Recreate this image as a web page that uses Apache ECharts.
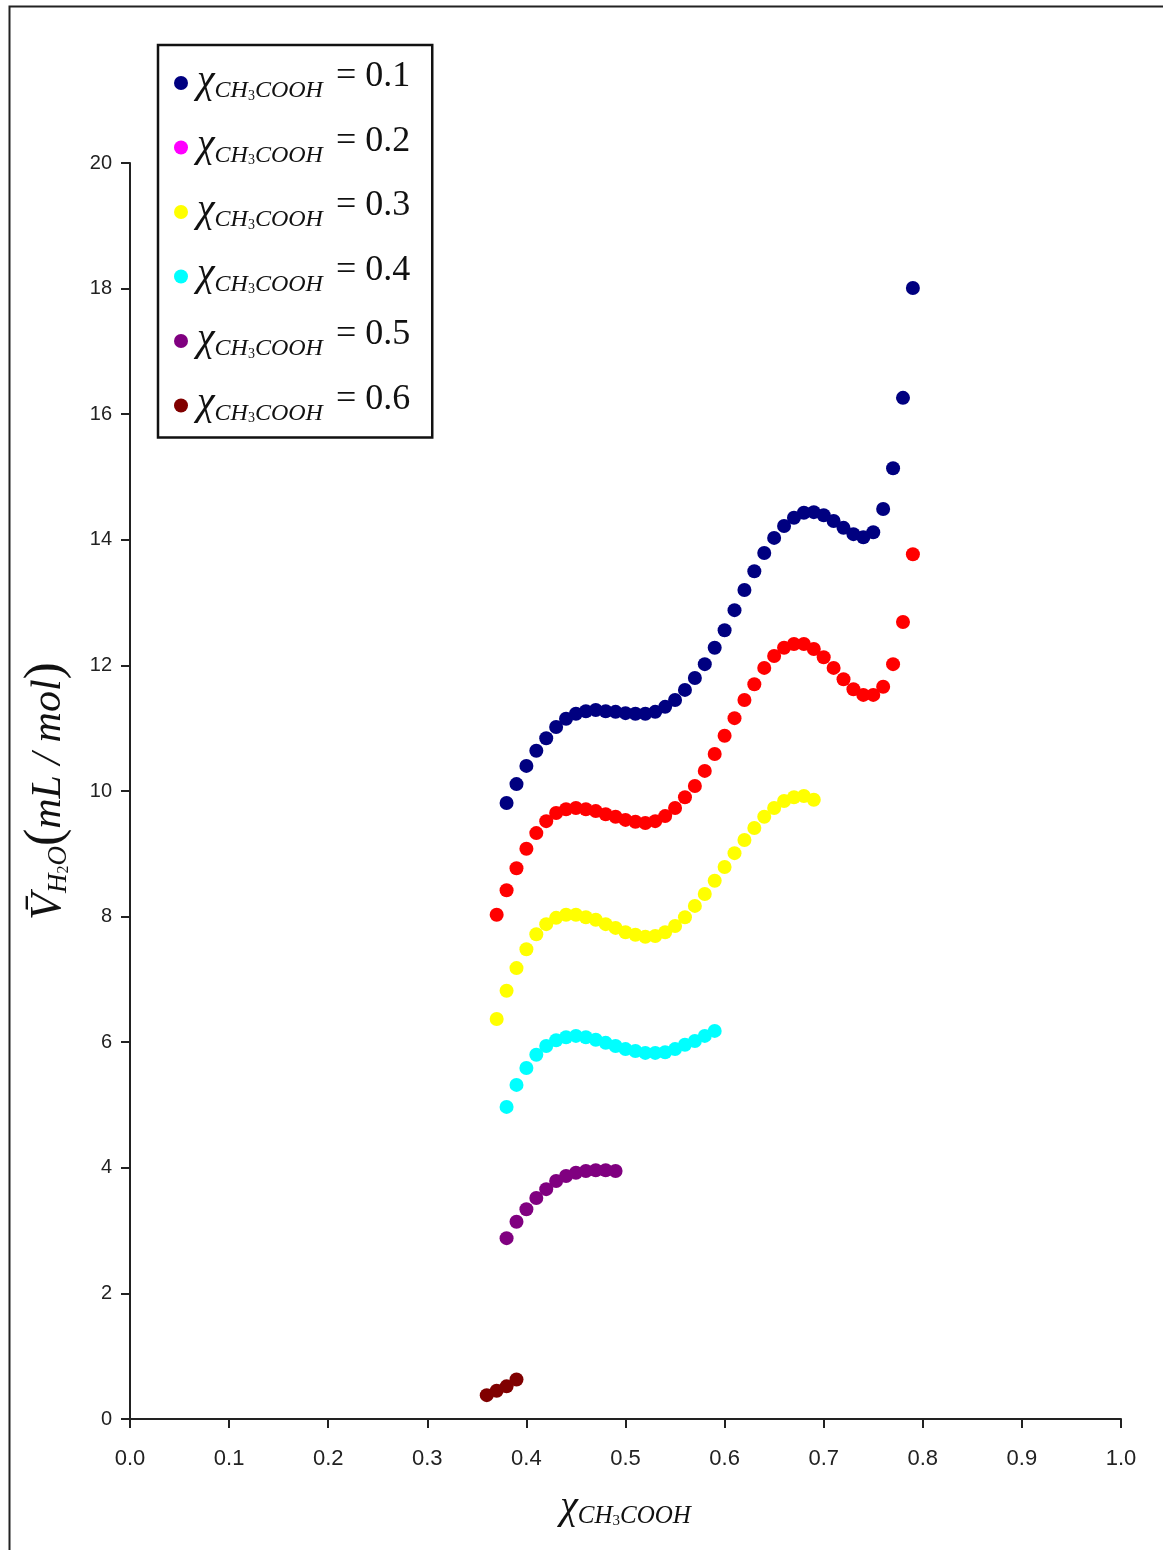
<!DOCTYPE html>
<html>
<head>
<meta charset="utf-8">
<script src="https://cdn.jsdelivr.net/npm/echarts@6/dist/echarts.min.js"></script>
<style>
  html, body { margin: 0; padding: 0; background: #fff; }
  #chart { width: 1163px; height: 1550px; }
</style>
</head>
<body>
<div id="chart"></div>
<script>
// x = mole fraction CH3COOH, y = partial molar volume of water (mL/mol)
const x01 = [0.38,0.39,0.40,0.41,0.42,0.43,0.44,0.45,0.46,0.47,0.48,0.49,0.50,0.51,0.52,0.53,0.54,0.55,0.56,0.57,0.58,0.59,0.60,0.61,0.62,0.63,0.64,0.65,0.66,0.67,0.68,0.69,0.70,0.71,0.72,0.73,0.74,0.75,0.76,0.77,0.78,0.79]
const y01 = [9.81,10.11,10.40,10.64,10.84,11.02,11.15,11.23,11.27,11.29,11.27,11.26,11.24,11.23,11.23,11.26,11.34,11.45,11.61,11.80,12.02,12.28,12.56,12.88,13.20,13.50,13.79,14.03,14.22,14.35,14.43,14.44,14.39,14.30,14.19,14.09,14.04,14.12,14.49,15.14,16.26,18.01]

const x02 = [0.37,0.38,0.39,0.40,0.41,0.42,0.43,0.44,0.45,0.46,0.47,0.48,0.49,0.50,0.51,0.52,0.53,0.54,0.55,0.56,0.57,0.58,0.59,0.60,0.61,0.62,0.63,0.64,0.65,0.66,0.67,0.68,0.69,0.70,0.71,0.72,0.73,0.74,0.75,0.76,0.77,0.78,0.79]
const y02 = [8.03,8.42,8.77,9.08,9.33,9.52,9.65,9.71,9.73,9.71,9.68,9.63,9.59,9.54,9.51,9.49,9.52,9.60,9.73,9.90,10.08,10.32,10.59,10.88,11.16,11.45,11.70,11.96,12.15,12.28,12.34,12.34,12.26,12.13,11.96,11.78,11.62,11.53,11.53,11.66,12.02,12.69,13.77]

const x03 = [0.37,0.38,0.39,0.40,0.41,0.42,0.43,0.44,0.45,0.46,0.47,0.48,0.49,0.50,0.51,0.52,0.53,0.54,0.55,0.56,0.57,0.58,0.59,0.60,0.61,0.62,0.63,0.64,0.65,0.66,0.67,0.68,0.69]
const y03 = [6.37,6.82,7.18,7.48,7.72,7.88,7.98,8.03,8.03,7.99,7.95,7.88,7.82,7.75,7.71,7.68,7.69,7.75,7.85,7.99,8.17,8.36,8.57,8.79,9.01,9.22,9.41,9.59,9.73,9.84,9.90,9.92,9.86]

const x04 = [0.38,0.39,0.40,0.41,0.42,0.43,0.44,0.45,0.46,0.47,0.48,0.49,0.50,0.51,0.52,0.53,0.54,0.55,0.56,0.57,0.58,0.59]
const y04 = [4.97,5.32,5.59,5.80,5.94,6.03,6.08,6.10,6.08,6.04,5.99,5.94,5.89,5.86,5.83,5.83,5.84,5.89,5.96,6.02,6.10,6.18]

const x05 = [0.38,0.39,0.40,0.41,0.42,0.43,0.44,0.45,0.46,0.47,0.48,0.49]
const y05 = [2.88,3.14,3.34,3.52,3.66,3.79,3.87,3.92,3.95,3.96,3.96,3.95]

const x06 = [0.36,0.37,0.38,0.39]
const y06 = [0.38,0.45,0.52,0.63]

const seriesNames = ['0.1', '0.2', '0.3', '0.4', '0.5', '0.6']
const seriesX = [x01, x02, x03, x04, x05, x06]
const seriesY = [y01, y02, y03, y04, y05, y06]
const colors = ['#000080', '#ff0000', '#ffff00', '#00ffff', '#800080', '#800000']
// legend icon of 0.2 is magenta in the original while its points are red
const legendColors = ['#000080', '#ff00ff', '#ffff00', '#00ffff', '#800080', '#800000']

const xTicks = ['0.0','0.1','0.2','0.3','0.4','0.5','0.6','0.7','0.8','0.9','1.0']

const serif = '"Liberation Serif", "DejaVu Serif", serif'
const sans = '"Liberation Sans Narrow", "Liberation Sans", Arial, sans-serif'

const myChart = echarts.init(document.getElementById('chart'))

let series = seriesNames.map((name, i) => {
  return {
    name: name,
    type: 'scatter',
    symbol: 'circle',
    symbolSize: 14,
    itemStyle: { color: colors[i], opacity: 1 },
    data: seriesX[i].map((x, j) => [x, seriesY[i][j]]),
    z: 10 - i
  }
})

let option = {
  animation: false,
  backgroundColor: '#fff',
  grid: { left: 130, right: 42, top: 163, bottom: 131 },
  legend: {
    orient: 'vertical',
    left: 158,
    top: 45,
    padding: [14, 22, 12, 16],
    itemGap: 20.5,
    itemWidth: 22,
    itemHeight: 14,
    icon: 'circle',
    borderColor: '#111',
    borderWidth: 2.5,
    backgroundColor: '#fff',
    data: seriesNames.map((n, i) => ({ name: n, itemStyle: { color: legendColors[i] } })),
    formatter: name => '{chi|χ}{sub|CH}{three|3}{sub|COOH}{eq| = ' + name + '}',
    textStyle: {
      color: '#111',
      rich: {
        chi: { fontFamily: serif, fontStyle: 'italic', fontSize: 40, lineHeight: 40, verticalAlign: 'bottom', padding: [0, 0, 2, 0] },
        sub: { fontFamily: serif, fontStyle: 'italic', fontSize: 24, lineHeight: 26, verticalAlign: 'bottom' },
        three: { fontFamily: serif, fontSize: 14, lineHeight: 14, verticalAlign: 'bottom' },
        eq: { fontFamily: serif, fontSize: 36, lineHeight: 40, verticalAlign: 'bottom', padding: [0, 0, 8, 4] }
      }
    }
  },
  xAxis: {
    type: 'value',
    min: 0,
    max: 1,
    interval: 0.1,
    splitLine: { show: false },
    axisLine: { lineStyle: { color: '#222', width: 2 } },
    axisTick: { inside: false, length: 9, lineStyle: { color: '#222', width: 2 } },
    axisLabel: {
      margin: 29,
      fontFamily: sans,
      fontSize: 22,
      color: '#222',
      formatter: (v, idx) => xTicks[idx]
    },
    name: '{chi|χ}{sub|CH}{three|3}{sub|COOH}',
    nameLocation: 'middle',
    nameGap: 70,
    nameTextStyle: {
      color: '#111',
      rich: {
        chi: { fontFamily: serif, fontStyle: 'italic', fontSize: 40, lineHeight: 40, verticalAlign: 'bottom', padding: [0, 0, 2, 0] },
        sub: { fontFamily: serif, fontStyle: 'italic', fontSize: 25, lineHeight: 28, verticalAlign: 'bottom' },
        three: { fontFamily: serif, fontSize: 15, lineHeight: 15, verticalAlign: 'bottom' }
      }
    }
  },
  yAxis: {
    type: 'value',
    min: 0,
    max: 20,
    interval: 2,
    splitLine: { show: false },
    axisLine: { lineStyle: { color: '#222', width: 2 } },
    axisTick: { inside: false, length: 9, lineStyle: { color: '#222', width: 2 } },
    axisLabel: {
      margin: 18,
      fontFamily: '"Liberation Sans", Arial, sans-serif',
      fontSize: 20,
      color: '#222'
    },
    name: '{v|V̄}{sub|H}{two|2}{sub|O}{par|(}{unit|mL / mol}{par|)}',
    nameLocation: 'middle',
    nameGap: 58,
    nameRotate: 90,
    nameTextStyle: {
      color: '#111',
      rich: {
        v: { fontFamily: serif, fontStyle: 'italic', fontSize: 44, lineHeight: 50, verticalAlign: 'bottom', padding: [0, 0, 2, 0] },
        sub: { fontFamily: serif, fontStyle: 'italic', fontSize: 27, lineHeight: 30, verticalAlign: 'bottom' },
        two: { fontFamily: serif, fontSize: 16, lineHeight: 16, verticalAlign: 'bottom' },
        par: { fontFamily: serif, fontSize: 52, lineHeight: 56, verticalAlign: 'bottom' },
        unit: { fontFamily: serif, fontStyle: 'italic', fontSize: 42, lineHeight: 50, verticalAlign: 'bottom', padding: [0, 0, 2, 0] }
      }
    }
  },
  graphic: [
    {
      type: 'rect',
      left: 7,
      top: 4,
      shape: { width: 1200, height: 1600 },
      style: { fill: 'none', stroke: '#222', lineWidth: 2 },
      silent: true,
      z: -1
    }
  ],
  series: series
}

option && myChart.setOption(option)
</script>
</body>
</html>
